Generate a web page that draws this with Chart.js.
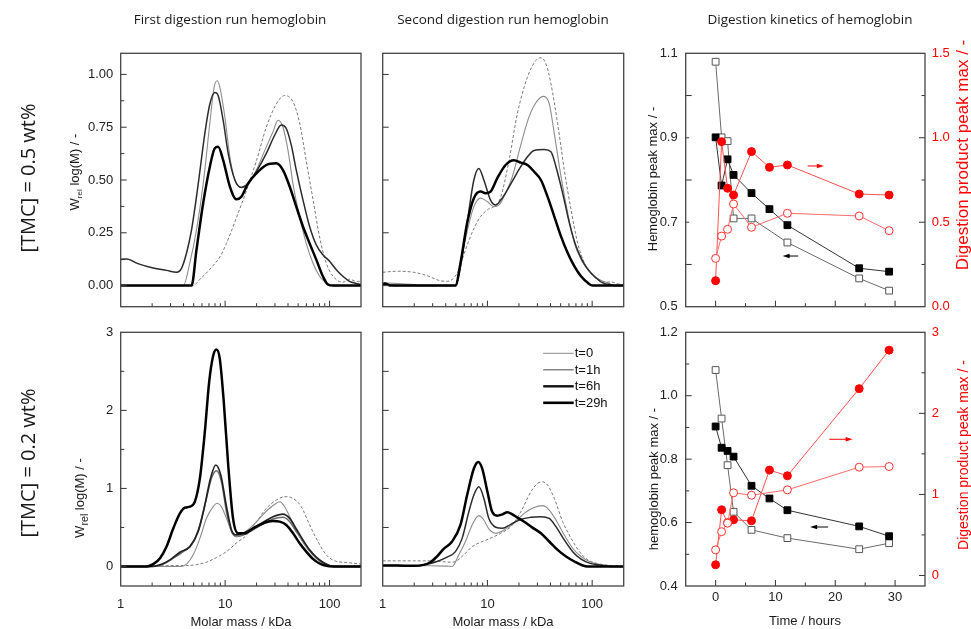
<!DOCTYPE html>
<html>
<head>
<meta charset="utf-8">
<script src="https://cdn.jsdelivr.net/npm/chart.js@4.4.1/dist/chart.umd.min.js"></script>
<style>
  html, body { margin: 0; padding: 0; background: #fff; }
  #fig { position: relative; width: 971px; height: 629px; overflow: hidden; background: #fff; }
  #fig canvas { position: absolute; left: 0; top: 0; }
  .t { position: absolute; white-space: nowrap; transform: translate(-50%, -50%); color: #1a1a1a; line-height: 1; }
  .r { transform: translate(-50%, -50%) rotate(-90deg); }
  .title { font: 13.5px 'Open Sans', sans-serif; }
  .row { font: 20px 'Open Sans', sans-serif; }
  .ax { font: 13px 'Liberation Sans', Arial, sans-serif; }
  .red { color: #ff0000; }
  .ax sub { font-size: 62%; vertical-align: -3px; }
  .ax sub.big { font-size: 82%; vertical-align: -4px; }
</style>
</head>
<body>
<div id="fig">
  <canvas id="c1" width="971" height="629"></canvas>
  <canvas id="c2" width="971" height="629"></canvas>
  <canvas id="c3" width="971" height="629"></canvas>
  <canvas id="c4" width="971" height="629"></canvas>
  <canvas id="c5" width="971" height="629"></canvas>
  <canvas id="c6" width="971" height="629"></canvas>

  <div class="t title" style="left:230px;top:19px">First digestion run hemoglobin</div>
  <div class="t title" style="left:503px;top:19px">Second digestion run hemoglobin</div>
  <div class="t title" style="left:810px;top:19px">Digestion kinetics of hemoglobin</div>

  <div class="t r row" style="left:27px;top:178px">[TMC] = 0.5 wt%</div>
  <div class="t r row" style="left:27px;top:463px">[TMC] = 0.2 wt%</div>

  <div class="t r ax" style="left:75px;top:172px">W<sub>rel</sub> log(M) / -</div>
  <div class="t r ax" style="left:81px;top:498px">W<sub class="big">rel</sub> log(M) / -</div>

  <div class="t ax" style="left:241px;top:621px">Molar mass / kDa</div>
  <div class="t ax" style="left:503px;top:621px">Molar mass / kDa</div>
  <div class="t ax" style="left:805px;top:620px">Time / hours</div>

  <div class="t r ax" style="left:652px;top:179px">Hemoglobin peak max / -</div>
  <div class="t r ax" style="left:653px;top:479px">hemoglobin peak max / -</div>
  <div class="t r ax red" style="left:963px;top:155px;font-size:17px">Digestion product peak max / -</div>
  <div class="t r ax red" style="left:963px;top:455px;font-size:14px">Digestion product peak max / -</div>
</div>

<script>
// ---- molar-mass distributions: [molar mass (kDa), w_rel log(M)] ----
// first digestion run, [TMC] = 0.5 wt%
const run1Hi_t0 = [[1,0],[4.95,0],[5.73,0.03],[6.63,0.06],[7.68,0.095],[8.89,0.135],[10.3,0.2],[12.8,0.32],[16.0,0.45],[19.9,0.59],[24.8,0.75],[30.9,0.86],[37.2,0.9],[44.7,0.87],[51.7,0.77],[59.8,0.59],[69.3,0.41],[80.2,0.23],[92.9,0.107],[108,0.044],[134,0.016],[155,0.03],[180,0.02],[200,0.02]];
const run1Hi_t1 = [[1,0],[3.97,0],[4.59,0.107],[5.32,0.264],[6.16,0.48],[7.14,0.77],[7.85,0.94],[8.39,0.97],[8.89,0.94],[9.93,0.80],[11.1,0.61],[12.4,0.50],[14.3,0.465],[16.6,0.476],[19.9,0.547],[24.8,0.657],[28.7,0.728],[32.1,0.783],[35.8,0.75],[40.0,0.64],[44.7,0.48],[51.7,0.327],[59.8,0.2],[69.3,0.107],[80.2,0.044],[92.9,0.012],[108,0],[200,0]];
const run1Hi_t6 = [[1,0.123],[1.14,0.126],[1.46,0.104],[2.05,0.083],[2.75,0.072],[3.43,0.063],[3.83,0.083],[4.27,0.154],[4.77,0.264],[5.52,0.48],[6.39,0.72],[7.14,0.86],[7.96,0.914],[8.57,0.9],[9.57,0.783],[10.7,0.626],[12.4,0.50],[14.3,0.465],[16.6,0.484],[19.9,0.54],[24.8,0.626],[29.8,0.712],[34.5,0.76],[38.5,0.744],[43.0,0.665],[48.0,0.547],[55.6,0.406],[64.4,0.28],[74.6,0.193],[86.3,0.146],[100,0.115],[116,0.075],[134,0.044],[155,0.02],[180,0.01],[200,0.005]];
const run1Hi_t29 = [[1,0],[4.77,0],[5.32,0.17],[6.16,0.39],[7.14,0.563],[7.96,0.65],[8.57,0.657],[9.57,0.594],[11.1,0.469],[12.8,0.409],[14.3,0.421],[16.6,0.484],[19.9,0.531],[24.8,0.571],[30.9,0.579],[35.8,0.547],[41.5,0.469],[48.0,0.374],[55.6,0.28],[64.4,0.2],[74.6,0.123],[86.3,0.044],[96.4,0.005],[108,0],[200,0]];

// second digestion run, [TMC] = 0.5 wt%
const run2Hi_t0 = [[1,0.063],[1.36,0.068],[1.97,0.063],[2.65,0.047],[3.42,0.025],[4.12,0.02],[4.77,0.036],[5.33,0.075],[6.17,0.17],[7.42,0.27],[8.60,0.327],[9.96,0.358],[12.0,0.382],[13.4,0.42],[16.1,0.594],[19.3,0.814],[24.1,0.987],[29.0,1.066],[32.4,1.079],[36.2,1.05],[40.4,0.956],[46.8,0.767],[54.2,0.547],[62.9,0.358],[72.8,0.2],[84.4,0.107],[97.8,0.057],[113,0.028],[131,0.016],[152,0.017],[176,0.008],[200,0.005]];
const run2Hi_t1 = [[1,0.013],[1.36,0.01],[1.97,0.005],[2.2,0],[4.95,0],[5.53,0.107],[6.40,0.256],[7.42,0.374],[8.60,0.414],[9.96,0.398],[11.5,0.374],[12.9,0.382],[14.9,0.437],[17.3,0.516],[20.8,0.665],[25.0,0.80],[30.1,0.877],[34.4,0.896],[38.9,0.862],[43.5,0.72],[50.4,0.516],[58.4,0.343],[67.7,0.2],[78.3,0.123],[90.8,0.075],[105,0.044],[122,0.024],[141,0.013],[164,0],[200,0]];
const run2Hi_t6 = [[1,0.005],[1.05,0.01],[1.18,0.003],[1.47,0],[4.95,0],[5.53,0.09],[6.40,0.296],[7.42,0.5],[8.28,0.555],[9.25,0.5],[10.7,0.405],[12.0,0.382],[13.4,0.405],[15.5,0.453],[17.9,0.508],[20.8,0.563],[24.1,0.61],[27.9,0.64],[34.9,0.645],[40.4,0.634],[45.1,0.563],[52.3,0.437],[60.6,0.296],[70.2,0.186],[81.3,0.115],[94.2,0.068],[109,0.036],[126,0.013],[147,0.005],[164,0],[200,0]];
const run2Hi_t29 = [[1,0.003],[1.05,0.01],[1.18,0],[4.95,0],[5.53,0.107],[6.40,0.296],[7.42,0.414],[8.60,0.445],[9.60,0.437],[10.7,0.445],[12.4,0.508],[14.9,0.571],[17.9,0.594],[20.8,0.582],[24.1,0.571],[27.9,0.539],[32.4,0.5],[37.5,0.421],[43.5,0.327],[50.4,0.233],[58.4,0.154],[67.7,0.091],[78.3,0.044],[90.8,0.013],[101,0],[200,0]];

// first digestion run, [TMC] = 0.2 wt%
const run1Lo_t0 = [[1,0],[2.05,0],[2.75,0.012],[4.27,0.012],[5.13,0.02],[6.63,0.055],[8.26,0.115],[10.3,0.19],[12.8,0.30],[16.0,0.40],[19.9,0.57],[24.8,0.745],[30.9,0.85],[37.2,0.894],[44.7,0.872],[53.6,0.766],[64.4,0.532],[77.4,0.32],[92.9,0.149],[112,0.072],[134,0.055],[167,0.043],[200,0.03]];
const run1Lo_t1 = [[1,0],[3.83,0],[4.27,0.03],[4.95,0.149],[5.73,0.36],[6.63,0.617],[7.68,0.766],[8.39,0.81],[9.22,0.766],[10.3,0.617],[11.5,0.455],[12.8,0.383],[14.9,0.426],[17.9,0.51],[21.4,0.617],[25.8,0.73],[30.9,0.81],[33.3,0.83],[37.2,0.766],[43.0,0.596],[49.8,0.426],[57.7,0.277],[66.8,0.17],[80.2,0.085],[96.4,0.021],[112,0],[200,0]];
const run1Lo_t9 = [[1,0],[1.91,0],[2.38,0.02],[2.96,0.085],[3.69,0.183],[4.59,0.255],[5.52,0.447],[6.39,0.787],[7.24,1.128],[8.14,1.30],[9.09,1.17],[10.3,0.766],[11.5,0.468],[12.8,0.404],[14.9,0.426],[18.5,0.489],[23.1,0.566],[28.7,0.638],[35.8,0.672],[41.5,0.617],[48.0,0.481],[55.6,0.34],[64.4,0.213],[74.6,0.119],[86.3,0.055],[100,0.013],[112,0],[200,0]];
const run1Lo_t12 = [[1,0],[2.05,0],[2.56,0.03],[3.19,0.106],[3.97,0.19],[4.77,0.277],[5.73,0.532],[6.63,0.872],[7.40,1.13],[8.26,1.226],[9.22,1.085],[10.3,0.70],[11.5,0.447],[12.8,0.383],[14.9,0.404],[18.5,0.468],[23.1,0.545],[28.7,0.609],[35.8,0.63],[41.5,0.574],[48.0,0.447],[55.6,0.32],[64.4,0.2],[74.6,0.106],[86.3,0.043],[100,0.008],[112,0],[200,0]];
const run1Lo_t29 = [[1,0],[1.77,0],[2.05,0.03],[2.38,0.106],[2.75,0.255],[3.19,0.489],[3.69,0.68],[4.12,0.753],[4.59,0.766],[5.13,0.83],[5.73,1.128],[6.39,1.723],[7.03,2.362],[7.68,2.70],[8.26,2.779],[8.89,2.66],[9.71,2.106],[10.7,1.30],[11.9,0.617],[13.3,0.426],[15.4,0.426],[18.5,0.489],[23.1,0.553],[28.7,0.583],[33.3,0.574],[38.5,0.532],[44.7,0.426],[51.7,0.298],[59.8,0.191],[69.3,0.098],[80.2,0.038],[92.9,0.008],[108,0],[200,0]];

// second digestion run, [TMC] = 0.2 wt%
const run2Lo_t0 = [[1,0.072],[1.97,0.072],[2.85,0.072],[3.55,0.064],[4.43,0.055],[4.95,0.064],[5.95,0.149],[7.15,0.255],[8.60,0.31],[10.7,0.362],[13.4,0.426],[16.7,0.51],[20.8,0.70],[26.0,0.957],[30.1,1.064],[33.6,1.085],[37.5,1.043],[43.5,0.872],[52.3,0.574],[62.9,0.362],[75.5,0.191],[90.8,0.085],[109,0.043],[131,0.021],[164,0.008],[200,0]];
const run2Lo_t1 = [[1,0.013],[1.97,0.013],[4.12,0.004],[4.60,0],[5.33,0.149],[6.17,0.32],[7.15,0.532],[8.28,0.651],[9.25,0.596],[10.3,0.481],[12.0,0.426],[14.4,0.468],[17.9,0.553],[22.4,0.681],[27.9,0.757],[33.6,0.779],[38.9,0.723],[45.1,0.596],[54.2,0.404],[65.2,0.234],[78.3,0.128],[94.2,0.064],[113,0.03],[141,0.013],[164,0],[200,0]];
const run2Lo_t6 = [[1,0.013],[1.36,0.013],[1.97,0.004],[2.65,0.03],[3.30,0.064],[4.12,0.119],[4.95,0.19],[5.73,0.36],[6.64,0.70],[7.42,0.915],[8.28,1.02],[9.25,0.872],[10.3,0.617],[12.0,0.502],[13.9,0.489],[16.7,0.54],[20.8,0.604],[26.0,0.63],[32.4,0.638],[38.9,0.617],[45.1,0.51],[54.2,0.34],[65.2,0.19],[78.3,0.094],[94.2,0.043],[113,0.021],[141,0.004],[164,0],[200,0]];
const run2Lo_t29 = [[1,0.013],[1.36,0.013],[1.97,0.009],[2.46,0.021],[2.85,0.055],[3.30,0.128],[3.82,0.226],[4.60,0.32],[5.53,0.532],[6.40,0.915],[7.42,1.255],[8.17,1.34],[8.92,1.255],[10.0,0.957],[11.1,0.70],[12.4,0.651],[13.9,0.668],[15.5,0.694],[17.3,0.668],[19.3,0.626],[22.4,0.574],[26.9,0.498],[32.4,0.426],[38.9,0.32],[46.8,0.213],[56.3,0.128],[67.7,0.064],[81.3,0.013],[90.8,0],[200,0]];

// ---- digestion kinetics: peak maxima versus time (hours) ----
const timeRun1 = [0, 1, 2, 3, 6, 9, 12, 24, 29];
const timeRun2 = [0, 1, 2, 3, 6, 12, 24, 29];
// [TMC] = 0.5 wt%
const hbRun1Hi = [0.901, 0.787, 0.849, 0.812, 0.769, 0.731, 0.693, 0.591, 0.583];
const hbRun2Hi = [1.080, 0.901, 0.892, 0.709, 0.709, 0.652, 0.567, 0.538];
const dpRun1Hi = [0.154, 0.977, 0.701, 0.661, 0.918, 0.825, 0.839, 0.667, 0.661];
const dpRun2Hi = [0.286, 0.418, 0.458, 0.608, 0.470, 0.553, 0.537, 0.450];
// [TMC] = 0.2 wt%
const hbRun1Lo = [0.903, 0.836, 0.826, 0.808, 0.716, 0.676, 0.639, 0.588, 0.557];
const hbRun2Lo = [1.081, 0.928, 0.781, 0.634, 0.577, 0.551, 0.516, 0.535];
const dpRun1Lo = [0.132, 0.810, 0.650, 0.687, 0.674, 1.300, 1.230, 2.305, 2.780];
const dpRun2Lo = [0.316, 0.540, 0.645, 1.020, 0.990, 1.056, 1.336, 1.344];

// ---- tick labels ----
const massLabels = [1, 10, 100];
const timeLabels = [0, 10, 20, 30];

// ---------------------------------------------------------------
const W = 971, H = 629;
const FONT = "'Liberation Sans', Arial, sans-serif";
const LEFT_W = 60, RIGHT_W = 40, BOTTOM_H = 40;

function padding(area, hasRight) {
  return {
    left: area.l - LEFT_W,
    top: area.t,
    right: W - area.r - (hasRight ? RIGHT_W : 0),
    bottom: H - area.b - BOTTOM_H
  };
}
const fixW = w => s => { s.width = w; };
const fixH = h => s => { s.height = h; };
const zip = (xs, ys) => xs.map((x, i) => ({ x, y: ys[i] }));

// frame around the plot area plus inward tick marks
function frameTicks(majors) {
  return {
    id: 'frameTicks',
    afterDraw(chart) {
      const { ctx, chartArea: a } = chart;
      ctx.save();
      ctx.strokeStyle = '#333';
      ctx.lineWidth = 1;
      for (const id of Object.keys(majors)) {
        const s = chart.scales[id];
        const major = majors[id];
        for (const t of s.ticks) {
          const v = t.value;
          let isMajor;
          if (major === 'log') {
            const e = Math.floor(Math.log10(v) + 1e-9);
            const m = v / Math.pow(10, e);
            if (Math.abs(m - Math.round(m)) > 1e-6) continue;
            isMajor = Math.round(m) === 1;
          } else {
            isMajor = Math.abs(v / major - Math.round(v / major)) < 1e-6;
          }
          const len = isMajor ? 6 : 3.5;
          const p = s.getPixelForValue(v);
          ctx.beginPath();
          if (s.isHorizontal()) {
            if (p <= a.left + 1 || p >= a.right - 1) continue;
            ctx.moveTo(p, a.bottom); ctx.lineTo(p, a.bottom - len);
          } else {
            if (p <= a.top + 1 || p >= a.bottom - 1) continue;
            if (s.position === 'right') { ctx.moveTo(a.right, p); ctx.lineTo(a.right - len, p); }
            else { ctx.moveTo(a.left, p); ctx.lineTo(a.left + len, p); }
          }
          ctx.stroke();
        }
      }
      ctx.strokeStyle = '#444';
      ctx.lineWidth = 1.3;
      ctx.strokeRect(a.left, a.top, a.right - a.left, a.bottom - a.top);
      ctx.restore();
    }
  };
}

// small horizontal arrows pointing to the axis a series belongs to
function arrows(list) {
  return {
    id: 'arrows',
    afterDatasetsDraw(chart) {
      const { ctx } = chart;
      const xs = chart.scales.x;
      for (const ar of list) {
        const ys = chart.scales[ar.axis];
        const x0 = xs.getPixelForValue(ar.from), x1 = xs.getPixelForValue(ar.to);
        const y = ys.getPixelForValue(ar.y);
        const d = Math.sign(x1 - x0);
        ctx.save();
        ctx.strokeStyle = ar.color; ctx.fillStyle = ar.color; ctx.lineWidth = 1;
        ctx.beginPath(); ctx.moveTo(x0, y); ctx.lineTo(x1 - d * 5, y); ctx.stroke();
        ctx.beginPath(); ctx.moveTo(x1, y); ctx.lineTo(x1 - d * 7, y - 2.3); ctx.lineTo(x1 - d * 7, y + 2.3); ctx.closePath(); ctx.fill();
        ctx.restore();
      }
    }
  };
}

// legend in the upper right corner of the plot area
const cornerLegend = {
  id: 'cornerLegend',
  afterDraw(chart) {
    const { ctx, chartArea: a } = chart;
    ctx.save();
    ctx.font = '13px ' + FONT;
    ctx.textBaseline = 'middle';
    ctx.fillStyle = '#111';
    chart.data.datasets.forEach((ds, i) => {
      const y = a.top + 21 + i * 16.5;
      const x0 = a.right - 80.5, x1 = a.right - 50;
      ctx.strokeStyle = ds.legendColor || ds.borderColor;
      ctx.lineWidth = ds.legendWidth || ds.borderWidth;
      ctx.setLineDash([]);
      ctx.beginPath(); ctx.moveTo(x0, y); ctx.lineTo(x1, y); ctx.stroke();
      ctx.fillText(ds.label, x1 + 1, y + 0.5);
    });
    ctx.restore();
  }
};

// line styles of the time points
const S_T0  = { borderColor: '#7a7a7a', borderWidth: 1,   borderDash: [3, 2], legendColor: '#8a8a8a', legendWidth: 1,   order: 4 };
const S_T1  = { borderColor: '#8c8c8c', borderWidth: 1.1, legendColor: '#666', legendWidth: 1.2, order: 3 };
const S_T6  = { borderColor: '#2b2b2b', borderWidth: 1.5, legendColor: '#111', legendWidth: 2.4, order: 2 };
const S_T9  = { borderColor: '#222',    borderWidth: 1.7, order: 2 };
const S_T12 = { borderColor: '#6a6a6a', borderWidth: 1.5, order: 3 };
const S_T29 = { borderColor: '#000',    borderWidth: 2.5, legendColor: '#000', legendWidth: 2.6, order: 1 };

function curve(label, data, style) {
  return Object.assign({ label, data, pointRadius: 0, cubicInterpolationMode: 'monotone', fill: false }, style);
}

function massChart(id, area, curves, y, showX, extraPlugins) {
  const massAxis = {
    type: 'logarithmic', position: 'bottom', min: 1, max: 200,
    grid: { display: false, drawTicks: false }, border: { display: false },
    afterFit: fixH(BOTTOM_H),
    ticks: {
      autoSkip: false, maxRotation: 0, padding: 10.5, color: '#222', font: { family: FONT, size: 13 },
      callback: v => (showX && massLabels.includes(v)) ? String(v) : ''
    }
  };
  const wAxis = {
    position: 'left', min: y.min, max: y.max,
    grid: { display: false, drawTicks: false }, border: { display: false },
    afterFit: fixW(LEFT_W),
    ticks: {
      stepSize: y.step, includeBounds: false, autoSkip: false, padding: 7.5, color: '#222', font: { family: FONT, size: 13 },
      callback: v => y.label ? y.label(v) : ''
    }
  };
  return new Chart(document.getElementById(id), {
    type: 'line',
    data: { datasets: curves },
    options: {
      responsive: false, animation: false, devicePixelRatio: 1, events: [],
      layout: { padding: padding(area, false) },
      scales: { x: massAxis, y: wAxis },
      plugins: { legend: { display: false }, tooltip: { enabled: false } }
    },
    plugins: [frameTicks({ x: 'log', y: y.major })].concat(extraPlugins || [])
  });
}

function kineticsChart(id, area, sets, yl, yr, showX, arrowList) {
  const tick = { grid: { display: false, drawTicks: false }, border: { display: false } };
  return new Chart(document.getElementById(id), {
    type: 'line',
    data: { datasets: sets },
    options: {
      responsive: false, animation: false, devicePixelRatio: 1, events: [],
      layout: { padding: padding(area, true) },
      scales: {
        x: Object.assign({
          type: 'linear', position: 'bottom', min: -5, max: 35, afterFit: fixH(BOTTOM_H),
          ticks: { stepSize: 5, autoSkip: false, maxRotation: 0, padding: 3.5, color: '#222', font: { family: FONT, size: 13 },
            callback: v => (showX && timeLabels.includes(v)) ? String(v) : '' }
        }, tick),
        y: Object.assign({
          position: 'left', min: yl.min, max: yl.max, afterFit: fixW(LEFT_W),
          ticks: { stepSize: yl.step, autoSkip: false, padding: 8, color: '#222', font: { family: FONT, size: 13 }, callback: yl.label }
        }, tick),
        y2: Object.assign({
          position: 'right', min: yr.min, max: yr.max, afterFit: fixW(RIGHT_W),
          ticks: { stepSize: yr.step, includeBounds: false, autoSkip: false, padding: 6.7, color: '#ff0000', font: { family: FONT, size: 13 }, callback: yr.label }
        }, tick)
      },
      plugins: { legend: { display: false }, tooltip: { enabled: false } }
    },
    plugins: [frameTicks({ x: 10, y: yl.major, y2: yr.major }), arrows(arrowList)]
  });
}

function kineticsSets(hb1, hb2, dp1, dp2) {
  const base = { tension: 0, borderWidth: 1, pointBorderWidth: 1, fill: false };
  return [
    Object.assign({ label: 'product, 2nd run', data: zip(timeRun2, dp2), yAxisID: 'y2', borderColor: '#ff6b6b',
      pointStyle: 'circle', pointRadius: 4, pointBackgroundColor: '#fff', pointBorderColor: '#ff3030' }, base),
    Object.assign({ label: 'product, 1st run', data: zip(timeRun1, dp1), yAxisID: 'y2', borderColor: '#ff5050',
      pointStyle: 'circle', pointRadius: 4, pointBackgroundColor: '#ff0000', pointBorderColor: '#ff0000' }, base),
    Object.assign({ label: 'hemoglobin, 1st run', data: zip(timeRun1, hb1), yAxisID: 'y', borderColor: '#333',
      pointStyle: 'rect', pointRadius: 4.8, pointBackgroundColor: '#000', pointBorderColor: '#000' }, base),
    Object.assign({ label: 'hemoglobin, 2nd run', data: zip(timeRun2, hb2), yAxisID: 'y', borderColor: '#6a6a6a',
      pointStyle: 'rect', pointRadius: 4.8, pointBackgroundColor: '#fff', pointBorderColor: '#555' }, base)
  ];
}

// plot areas (px)
const AREA = {
  p1: { l: 120.7, r: 361, t: 53.3, b: 306.7 },
  p2: { l: 382.7, r: 623.7, t: 53.3, b: 306.7 },
  p3: { l: 685.7, r: 925, t: 53.3, b: 306.7 },
  p4: { l: 120.7, r: 361, t: 332.3, b: 586 },
  p5: { l: 382.7, r: 623.7, t: 332.3, b: 586 },
  p6: { l: 685.7, r: 925, t: 332.3, b: 586 }
};

const yHi = { min: -0.1, max: 1.1 };
const yLo = { min: -0.25, max: 3 };

massChart('c1', AREA.p1, [
  curve('t=0', run1Hi_t0, S_T0), curve('t=1h', run1Hi_t1, S_T1),
  curve('t=6h', run1Hi_t6, S_T6), curve('t=29h', run1Hi_t29, S_T29)
], Object.assign({ step: 0.125, major: 0.25, label: v => Math.abs(v / 0.25 - Math.round(v / 0.25)) < 1e-6 ? v.toFixed(2) : '' }, yHi), false);

massChart('c2', AREA.p2, [
  curve('t=0', run2Hi_t0, S_T0), curve('t=1h', run2Hi_t1, S_T1),
  curve('t=6h', run2Hi_t6, S_T6), curve('t=29h', run2Hi_t29, S_T29)
], Object.assign({ step: 0.25, major: 0.25, label: null }, yHi), false);

massChart('c4', AREA.p4, [
  curve('t=0', run1Lo_t0, S_T0), curve('t=1h', run1Lo_t1, S_T1),
  curve('t=9h', run1Lo_t9, S_T9), curve('t=12h', run1Lo_t12, S_T12),
  curve('t=29h', run1Lo_t29, S_T29)
], Object.assign({ step: 0.5, major: 1, label: v => Number.isInteger(v) ? String(v) : '' }, yLo), true);

massChart('c5', AREA.p5, [
  curve('t=0', run2Lo_t0, S_T0), curve('t=1h', run2Lo_t1, S_T1),
  curve('t=6h', run2Lo_t6, S_T6), curve('t=29h', run2Lo_t29, S_T29)
], Object.assign({ step: 0.5, major: 0.5, label: null }, yLo), true, [cornerLegend]);

kineticsChart('c3', AREA.p3, kineticsSets(hbRun1Hi, hbRun2Hi, dpRun1Hi, dpRun2Hi),
  { min: 0.5, max: 1.1, step: 0.1, major: 0.2, label: v => Math.round(v * 10) % 2 === 1 ? v.toFixed(1) : '' },
  { min: 0, max: 1.5, step: 0.25, major: 0.5, label: v => Math.abs(v * 2 - Math.round(v * 2)) < 1e-6 ? v.toFixed(1) : '' },
  false,
  [{ axis: 'y', from: 13.8, to: 11.2, y: 0.62, color: '#000' },
   { axis: 'y2', from: 15.4, to: 18.1, y: 0.833, color: '#ff0000' }]);

kineticsChart('c6', AREA.p6, kineticsSets(hbRun1Lo, hbRun2Lo, dpRun1Lo, dpRun2Lo),
  { min: 0.4, max: 1.2, step: 0.1, major: 0.2, label: v => Math.round(v * 10) % 2 === 0 ? v.toFixed(1) : '' },
  { min: -0.13, max: 3, step: 0.5, major: 1, label: v => Number.isInteger(v) ? String(v) : '' },
  true,
  [{ axis: 'y', from: 18.8, to: 15.8, y: 0.586, color: '#000' },
   { axis: 'y2', from: 19.0, to: 22.9, y: 1.68, color: '#ff0000' }]);
</script>
</body>
</html>
